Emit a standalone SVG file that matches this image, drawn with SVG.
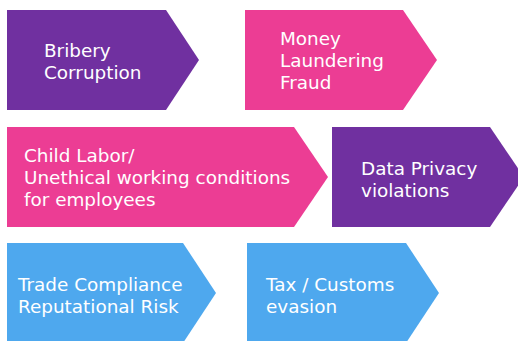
<svg xmlns="http://www.w3.org/2000/svg" width="518" height="341" viewBox="0 0 518 341">
  <style>
    .purple { fill: #7030A0; }
    .pink { fill: #EC3D94; }
    .blue { fill: #4EA8EE; }
    .label { font-family: "DejaVu Sans", Verdana, sans-serif; font-size: 18.4px; fill: #FFFFFF; }
  </style>
  <rect width="518" height="341" fill="#FFFFFF"/>

  <g id="bribery">
    <polygon class="purple" points="7,10 166,10 199,60 166,110 7,110"/>
    <text class="label" x="44" y="57">Bribery</text>
    <text class="label" x="44" y="79">Corruption</text>
  </g>

  <g id="money-laundering">
    <polygon class="pink" points="245,10 403,10 437,60 403,110 245,110"/>
    <text class="label" x="280" y="45">Money</text>
    <text class="label" x="280" y="67">Laundering</text>
    <text class="label" x="280" y="89">Fraud</text>
  </g>

  <g id="child-labor">
    <polygon class="pink" points="7,127 294,127 328,177 294,227 7,227"/>
    <text class="label" x="24" y="162">Child Labor/</text>
    <text class="label" x="24" y="184">Unethical working conditions</text>
    <text class="label" x="24" y="206">for employees</text>
  </g>

  <g id="data-privacy">
    <polygon class="purple" points="332,127 490,127 524,177 490,227 332,227"/>
    <text class="label" x="361" y="175">Data Privacy</text>
    <text class="label" x="361" y="197">violations</text>
  </g>

  <g id="trade-compliance">
    <polygon class="blue" points="7,243 183,243 216,293 183,343 7,343"/>
    <text class="label" x="18" y="291">Trade Compliance</text>
    <text class="label" x="18" y="313">Reputational Risk</text>
  </g>

  <g id="tax-customs">
    <polygon class="blue" points="247,243 406,243 439,293 406,343 247,343"/>
    <text class="label" x="266" y="291">Tax / Customs</text>
    <text class="label" x="266" y="313">evasion</text>
  </g>
</svg>
